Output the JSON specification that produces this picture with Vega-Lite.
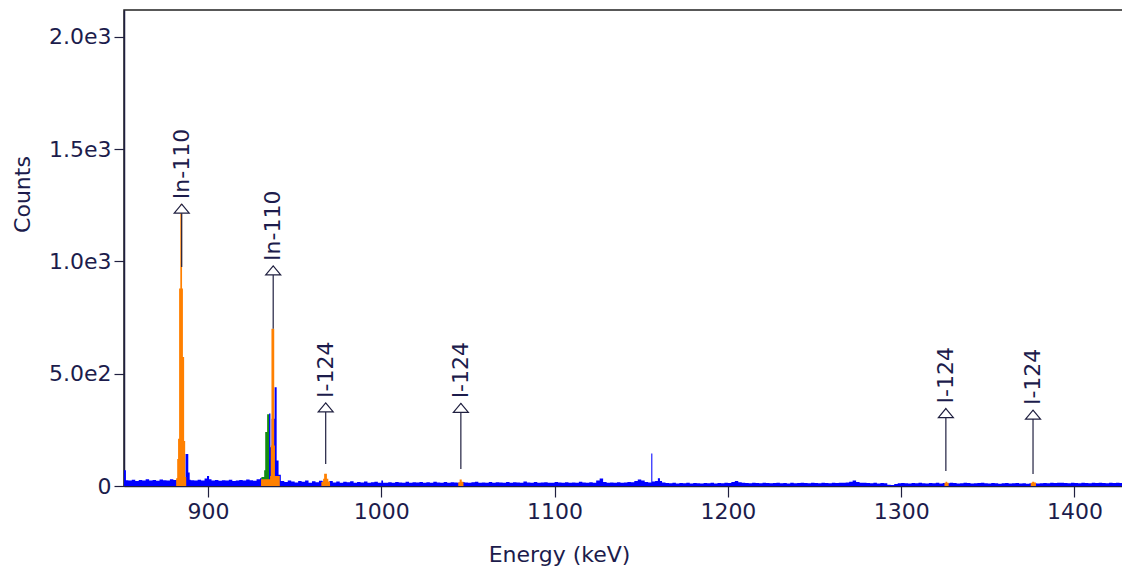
{
  "$schema": "https://vega.github.io/schema/vega-lite/v6.json",
  "width": 1000,
  "height": 476,
  "autosize": "none",
  "padding": {"left": 124, "top": 10, "right": 0, "bottom": 89},
  "background": "white",
  "config": {
    "view": {"stroke": "#222222", "strokeWidth": 1.5},
    "font": "DejaVu Sans",
    "axis": {
      "grid": false,
      "labelFont": "DejaVu Sans",
      "titleFont": "DejaVu Sans",
      "labelFontSize": 22,
      "titleFontSize": 22,
      "titleFontWeight": "normal",
      "labelColor": "#1c1c4c",
      "titleColor": "#1c1c4c",
      "tickColor": "#202040",
      "domainColor": "#202040",
      "domainWidth": 1.5,
      "tickWidth": 1.2,
      "labelFlush": false
    }
  },
  "datasets": {
    "blue": [
      {"e": 851.5, "c": 70}, {"e": 852.6, "c": 26}, {"e": 854, "c": 24}, {"e": 856, "c": 28}, {"e": 858, "c": 22}, {"e": 860, "c": 27}, {"e": 862, "c": 25}, {"e": 864, "c": 30}, {"e": 866, "c": 24}, {"e": 868, "c": 27}, {"e": 870, "c": 23}, {"e": 872, "c": 29}, {"e": 874, "c": 26}, {"e": 876, "c": 24}, {"e": 878, "c": 30}, {"e": 880, "c": 27}, {"e": 882, "c": 32}, {"e": 884, "c": 40}, {"e": 887, "c": 143}, {"e": 888.6, "c": 60}, {"e": 889.4, "c": 28}, {"e": 890, "c": 26}, {"e": 892, "c": 24}, {"e": 894, "c": 28}, {"e": 896, "c": 25}, {"e": 898, "c": 33}, {"e": 899.4, "c": 44}, {"e": 900.6, "c": 30}, {"e": 902, "c": 24}, {"e": 904, "c": 27}, {"e": 906, "c": 23}, {"e": 908, "c": 26}, {"e": 910, "c": 24}, {"e": 912, "c": 28}, {"e": 914, "c": 22}, {"e": 916, "c": 25}, {"e": 918, "c": 27}, {"e": 920, "c": 24}, {"e": 922, "c": 29}, {"e": 924, "c": 26}, {"e": 926, "c": 23}, {"e": 928, "c": 30}, {"e": 930, "c": 35}, {"e": 932, "c": 40}, {"e": 933.8, "c": 120}, {"e": 935.2, "c": 323}, {"e": 936, "c": 173}, {"e": 936.7, "c": 300}, {"e": 938.4, "c": 440}, {"e": 939.6, "c": 114}, {"e": 940.7, "c": 50}, {"e": 942, "c": 22}, {"e": 944, "c": 18}, {"e": 946, "c": 25}, {"e": 948, "c": 20}, {"e": 950, "c": 16}, {"e": 952, "c": 22}, {"e": 954, "c": 19}, {"e": 956, "c": 24}, {"e": 958, "c": 15}, {"e": 960, "c": 21}, {"e": 962, "c": 17}, {"e": 964, "c": 23}, {"e": 966, "c": 20}, {"e": 968, "c": 18}, {"e": 970, "c": 22}, {"e": 972, "c": 16}, {"e": 974, "c": 20}, {"e": 976, "c": 14}, {"e": 978, "c": 19}, {"e": 980, "c": 17}, {"e": 982, "c": 21}, {"e": 984, "c": 15}, {"e": 986, "c": 18}, {"e": 988, "c": 16}, {"e": 990, "c": 20}, {"e": 992, "c": 14}, {"e": 994, "c": 17}, {"e": 996, "c": 19}, {"e": 998, "c": 15}, {"e": 1000, "c": 24}, {"e": 1001, "c": 15}, {"e": 1004, "c": 17}, {"e": 1006, "c": 14}, {"e": 1008, "c": 18}, {"e": 1010, "c": 16}, {"e": 1012, "c": 15}, {"e": 1014, "c": 19}, {"e": 1016, "c": 14}, {"e": 1018, "c": 17}, {"e": 1020, "c": 16}, {"e": 1022, "c": 18}, {"e": 1024, "c": 15}, {"e": 1026, "c": 17}, {"e": 1028, "c": 14}, {"e": 1030, "c": 19}, {"e": 1032, "c": 16}, {"e": 1034, "c": 15}, {"e": 1036, "c": 18}, {"e": 1038, "c": 14}, {"e": 1040, "c": 17}, {"e": 1042, "c": 16}, {"e": 1044, "c": 15}, {"e": 1046, "c": 18}, {"e": 1048, "c": 16}, {"e": 1050, "c": 14}, {"e": 1052, "c": 17}, {"e": 1054, "c": 19}, {"e": 1056, "c": 15}, {"e": 1058, "c": 16}, {"e": 1060, "c": 14}, {"e": 1062, "c": 18}, {"e": 1064, "c": 15}, {"e": 1066, "c": 17}, {"e": 1068, "c": 16}, {"e": 1070, "c": 14}, {"e": 1072, "c": 18}, {"e": 1074, "c": 15}, {"e": 1076, "c": 17}, {"e": 1078, "c": 16}, {"e": 1080, "c": 14}, {"e": 1082, "c": 20}, {"e": 1084, "c": 16}, {"e": 1086, "c": 15}, {"e": 1088, "c": 18}, {"e": 1090, "c": 14}, {"e": 1092, "c": 16}, {"e": 1094, "c": 17}, {"e": 1096, "c": 15}, {"e": 1098, "c": 14}, {"e": 1100, "c": 18}, {"e": 1102, "c": 16}, {"e": 1104, "c": 15}, {"e": 1106, "c": 17}, {"e": 1108, "c": 14}, {"e": 1110, "c": 16}, {"e": 1112, "c": 15}, {"e": 1114, "c": 19}, {"e": 1116, "c": 16}, {"e": 1118, "c": 14}, {"e": 1120, "c": 17}, {"e": 1122, "c": 15}, {"e": 1124, "c": 24}, {"e": 1126, "c": 33}, {"e": 1128, "c": 18}, {"e": 1130, "c": 15}, {"e": 1132, "c": 16}, {"e": 1134, "c": 14}, {"e": 1136, "c": 17}, {"e": 1138, "c": 15}, {"e": 1140, "c": 16}, {"e": 1142, "c": 18}, {"e": 1144, "c": 17}, {"e": 1146, "c": 22}, {"e": 1148, "c": 29}, {"e": 1150, "c": 24}, {"e": 1152, "c": 18}, {"e": 1154, "c": 16}, {"e": 1155.8, "c": 145}, {"e": 1156.4, "c": 20}, {"e": 1158, "c": 22}, {"e": 1159.6, "c": 35}, {"e": 1160.8, "c": 22}, {"e": 1162, "c": 16}, {"e": 1164, "c": 13}, {"e": 1166, "c": 12}, {"e": 1168, "c": 14}, {"e": 1170, "c": 11}, {"e": 1172, "c": 13}, {"e": 1174, "c": 12}, {"e": 1176, "c": 14}, {"e": 1178, "c": 11}, {"e": 1180, "c": 13}, {"e": 1182, "c": 12}, {"e": 1184, "c": 11}, {"e": 1186, "c": 13}, {"e": 1188, "c": 12}, {"e": 1190, "c": 14}, {"e": 1192, "c": 11}, {"e": 1194, "c": 13}, {"e": 1196, "c": 12}, {"e": 1198, "c": 15}, {"e": 1200, "c": 13}, {"e": 1202, "c": 18}, {"e": 1204, "c": 22}, {"e": 1206, "c": 17}, {"e": 1208, "c": 14}, {"e": 1210, "c": 13}, {"e": 1212, "c": 12}, {"e": 1214, "c": 14}, {"e": 1216, "c": 13}, {"e": 1218, "c": 12}, {"e": 1220, "c": 14}, {"e": 1222, "c": 13}, {"e": 1224, "c": 12}, {"e": 1226, "c": 13}, {"e": 1228, "c": 14}, {"e": 1230, "c": 12}, {"e": 1232, "c": 13}, {"e": 1234, "c": 11}, {"e": 1236, "c": 14}, {"e": 1238, "c": 12}, {"e": 1240, "c": 13}, {"e": 1242, "c": 15}, {"e": 1244, "c": 13}, {"e": 1246, "c": 12}, {"e": 1248, "c": 14}, {"e": 1250, "c": 13}, {"e": 1252, "c": 12}, {"e": 1254, "c": 14}, {"e": 1256, "c": 13}, {"e": 1258, "c": 12}, {"e": 1260, "c": 14}, {"e": 1262, "c": 13}, {"e": 1264, "c": 15}, {"e": 1266, "c": 14}, {"e": 1268, "c": 16}, {"e": 1270, "c": 19}, {"e": 1272, "c": 25}, {"e": 1274, "c": 18}, {"e": 1276, "c": 15}, {"e": 1278, "c": 14}, {"e": 1280, "c": 13}, {"e": 1282, "c": 12}, {"e": 1284, "c": 14}, {"e": 1286, "c": 11}, {"e": 1288, "c": 13}, {"e": 1290, "c": 12}, {"e": 1292, "c": 6}, {"e": 1294, "c": 4}, {"e": 1296, "c": 9}, {"e": 1298, "c": 12}, {"e": 1300, "c": 13}, {"e": 1302, "c": 12}, {"e": 1304, "c": 11}, {"e": 1306, "c": 13}, {"e": 1308, "c": 12}, {"e": 1310, "c": 14}, {"e": 1312, "c": 12}, {"e": 1314, "c": 11}, {"e": 1316, "c": 13}, {"e": 1318, "c": 12}, {"e": 1320, "c": 14}, {"e": 1322, "c": 11}, {"e": 1324, "c": 13}, {"e": 1326, "c": 12}, {"e": 1328, "c": 14}, {"e": 1330, "c": 13}, {"e": 1332, "c": 11}, {"e": 1334, "c": 12}, {"e": 1336, "c": 14}, {"e": 1338, "c": 13}, {"e": 1340, "c": 11}, {"e": 1342, "c": 12}, {"e": 1344, "c": 13}, {"e": 1346, "c": 14}, {"e": 1348, "c": 12}, {"e": 1350, "c": 11}, {"e": 1352, "c": 13}, {"e": 1354, "c": 12}, {"e": 1356, "c": 10}, {"e": 1358, "c": 12}, {"e": 1360, "c": 13}, {"e": 1362, "c": 11}, {"e": 1364, "c": 12}, {"e": 1366, "c": 13}, {"e": 1368, "c": 11}, {"e": 1370, "c": 12}, {"e": 1372, "c": 10}, {"e": 1374, "c": 12}, {"e": 1376, "c": 13}, {"e": 1378, "c": 11}, {"e": 1380, "c": 12}, {"e": 1382, "c": 13}, {"e": 1384, "c": 12}, {"e": 1386, "c": 14}, {"e": 1388, "c": 13}, {"e": 1390, "c": 15}, {"e": 1392, "c": 14}, {"e": 1394, "c": 13}, {"e": 1396, "c": 12}, {"e": 1398, "c": 14}, {"e": 1400, "c": 13}, {"e": 1402, "c": 12}, {"e": 1404, "c": 14}, {"e": 1406, "c": 13}, {"e": 1408, "c": 12}, {"e": 1410, "c": 14}, {"e": 1412, "c": 13}, {"e": 1414, "c": 15}, {"e": 1416, "c": 13}, {"e": 1418, "c": 12}, {"e": 1420, "c": 14}, {"e": 1422, "c": 13}, {"e": 1424, "c": 15}, {"e": 1426, "c": 13}, {"e": 1428, "c": 13}, {"e": 1430, "c": 0}
    ],
    "green": [
      {"e": 930.8, "c": 40}, {"e": 932.4, "c": 70}, {"e": 933.0, "c": 240}, {"e": 934.1, "c": 320}, {"e": 935.2, "c": 0}
    ],
    "orange": [
      {"e": 881.6, "c": 35}, {"e": 882.2, "c": 120}, {"e": 882.7, "c": 210}, {"e": 883.3, "c": 880}, {"e": 884.0, "c": 1255}, {"e": 885.0, "c": 880}, {"e": 885.5, "c": 575}, {"e": 886.2, "c": 200}, {"e": 886.8, "c": 40}, {"e": 887.4, "c": 0},
      {"e": 930.6, "c": 30}, {"e": 935.8, "c": 45}, {"e": 936.2, "c": 180}, {"e": 936.6, "c": 700}, {"e": 938.2, "c": 180}, {"e": 938.6, "c": 45}, {"e": 941.4, "c": 0},
      {"e": 965.4, "c": 18}, {"e": 966.4, "c": 32}, {"e": 967.0, "c": 55}, {"e": 968.6, "c": 32}, {"e": 969.4, "c": 20}, {"e": 970.4, "c": 0},
      {"e": 1044.4, "c": 17}, {"e": 1045.2, "c": 29}, {"e": 1046.4, "c": 19}, {"e": 1047.4, "c": 0},
      {"e": 1325.0, "c": 15}, {"e": 1325.6, "c": 19}, {"e": 1326.6, "c": 15}, {"e": 1327.4, "c": 0},
      {"e": 1374.8, "c": 14}, {"e": 1375.6, "c": 19}, {"e": 1376.8, "c": 16}, {"e": 1377.8, "c": 0}
    ],
    "ann": [
      {"e": 884.8, "lo": 975, "tip": 1255, "label": "In-110"},
      {"e": 937.6, "lo": 700, "tip": 980, "label": "In-110"},
      {"e": 967.9, "lo": 98, "tip": 370, "label": "I-124"},
      {"e": 1045.9, "lo": 76, "tip": 368, "label": "I-124"},
      {"e": 1325.8, "lo": 67, "tip": 345, "label": "I-124"},
      {"e": 1376.1, "lo": 54, "tip": 338, "label": "I-124"}
    ]
  },
  "layer": [
    {
      "data": {"name": "blue"},
      "mark": {"type": "area", "interpolate": "step-after", "color": "#0000ff", "clip": true},
      "encoding": {
        "x": {
          "field": "e", "type": "quantitative",
          "scale": {"domain": [851.5, 1428.6], "nice": false, "zero": false},
          "axis": {"values": [900, 1000, 1100, 1200, 1300, 1400], "format": "d", "tickSize": 11, "labelPadding": 4, "title": "Energy (keV)", "titlePadding": 22, "titleX": 435, "titleAlign": "center"}
        },
        "y": {
          "field": "c", "type": "quantitative",
          "scale": {"domain": [0, 2120], "nice": false},
          "axis": {"values": [0, 500, 1000, 1500, 2000], "tickSize": 10, "labelPadding": 3, "labelExpr": "datum.value == 0 ? '0' : replace(format(datum.value, '.1e'), '+', '')", "title": "Counts", "titlePadding": 14, "titleY": 184}
        }
      }
    },
    {
      "data": {"name": "green"},
      "mark": {"type": "area", "interpolate": "step-after", "color": "#148c14", "clip": true},
      "encoding": {
        "x": {"field": "e", "type": "quantitative"},
        "y": {"field": "c", "type": "quantitative"}
      }
    },
    {
      "data": {"name": "orange"},
      "mark": {"type": "area", "interpolate": "step-after", "color": "#ff8000", "clip": true},
      "encoding": {
        "x": {"field": "e", "type": "quantitative"},
        "y": {"field": "c", "type": "quantitative"}
      }
    },
    {
      "data": {"name": "ann"},
      "mark": {"type": "rule", "color": "#202040", "strokeWidth": 1.2},
      "encoding": {
        "x": {"field": "e", "type": "quantitative"},
        "y": {"field": "lo", "type": "quantitative"},
        "y2": {"field": "tip"}
      }
    },
    {
      "data": {"name": "ann"},
      "mark": {"type": "point", "shape": "M0,0L1,1.2L-1,1.2Z", "size": 225, "filled": true, "fill": "white", "stroke": "#202040", "strokeWidth": 1.2, "opacity": 1, "fillOpacity": 1},
      "encoding": {
        "x": {"field": "e", "type": "quantitative"},
        "y": {"field": "tip", "type": "quantitative"}
      }
    },
    {
      "data": {"name": "ann"},
      "mark": {"type": "text", "angle": 270, "align": "left", "baseline": "middle", "dx": 5, "fontSize": 22, "font": "DejaVu Sans", "color": "#1c1c4c"},
      "encoding": {
        "x": {"field": "e", "type": "quantitative"},
        "y": {"field": "tip", "type": "quantitative"},
        "text": {"field": "label"}
      }
    }
  ]
}
